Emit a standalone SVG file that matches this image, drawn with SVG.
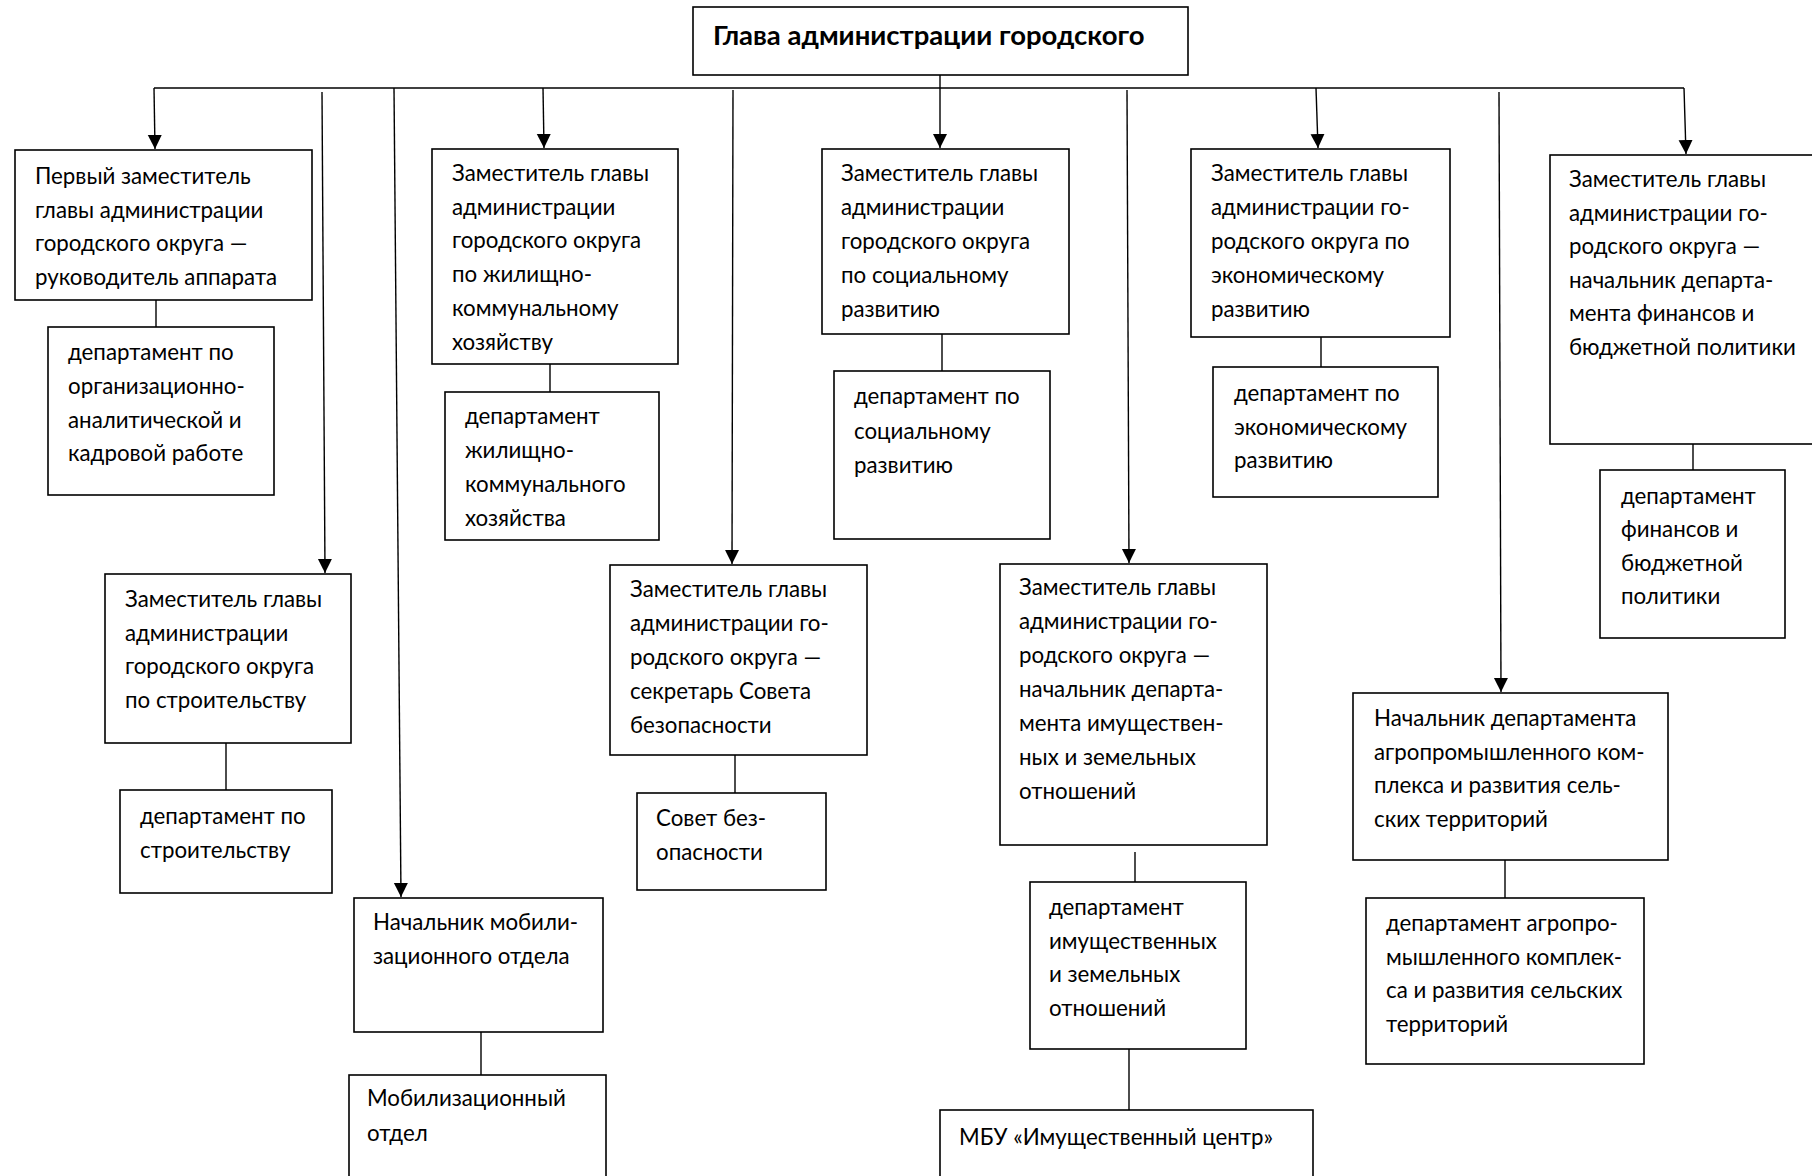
<svg xmlns="http://www.w3.org/2000/svg" width="1812" height="1176" viewBox="0 0 1812 1176">
<style>
.box{fill:#fff;stroke:#000;stroke-width:1.6}
.t{font-family:Lato,"Open Sans",sans-serif;font-size:22.3px;fill:#000}
.h{font-family:Lato,"Open Sans",sans-serif;font-size:27.5px;font-weight:bold;fill:#000}
.c{stroke:#000;stroke-width:1.4;fill:none}
.a{stroke:#000;stroke-width:1.4;fill:none;marker-end:url(#arr)}
</style>
<defs>
<marker id="arr" markerUnits="userSpaceOnUse" markerWidth="14" markerHeight="16" refX="14" refY="7" orient="auto">
<path d="M0,0 L14,7 L0,14 z" fill="#000"/>
</marker>
</defs>
<rect width="1812" height="1176" fill="#fff"/>
<g id="connectors">
<line class="c" x1="154" y1="88" x2="1684" y2="88"/>
<line class="a" x1="154" y1="88" x2="155" y2="149"/>
<line class="a" x1="322" y1="92" x2="325" y2="573"/>
<line class="a" x1="394" y1="88" x2="401" y2="897"/>
<line class="a" x1="543" y1="88" x2="544" y2="148"/>
<line class="a" x1="733" y1="90" x2="732" y2="564"/>
<line class="a" x1="940" y1="75" x2="940" y2="148"/>
<line class="a" x1="1127" y1="90" x2="1129" y2="563"/>
<line class="a" x1="1316" y1="88" x2="1318" y2="148"/>
<line class="a" x1="1499" y1="92" x2="1501" y2="692"/>
<line class="a" x1="1684" y1="88" x2="1686" y2="154"/>
<line class="c" x1="156" y1="300" x2="156" y2="327"/>
<line class="c" x1="226" y1="743" x2="226" y2="790"/>
<line class="c" x1="481" y1="1032" x2="481" y2="1075"/>
<line class="c" x1="550" y1="364" x2="550" y2="392"/>
<line class="c" x1="735" y1="755" x2="735" y2="793"/>
<line class="c" x1="942" y1="334" x2="942" y2="371"/>
<line class="c" x1="1135" y1="852" x2="1135" y2="882"/>
<line class="c" x1="1129" y1="1049" x2="1129" y2="1110"/>
<line class="c" x1="1321" y1="337" x2="1321" y2="367"/>
<line class="c" x1="1505" y1="860" x2="1505" y2="898"/>
<line class="c" x1="1693" y1="444" x2="1693" y2="470"/>
</g>
<g id="head">
<rect class="box" x="693" y="7" width="495" height="68"/>
<text class="h" x="713" y="45">Глава администрации городского</text>
</g>
<g id="first-deputy">
<rect class="box" x="15" y="150" width="297" height="150"/>
<text class="t" x="35" y="184"><tspan x="35">Первый заместитель</tspan><tspan x="35" dy="33.5">главы администрации</tspan><tspan x="35" dy="33.5">городского округа —</tspan><tspan x="35" dy="33.5">руководитель аппарата</tspan></text>
</g>
<g id="dept-org">
<rect class="box" x="48" y="327" width="226" height="168"/>
<text class="t" x="68" y="360"><tspan x="68">департамент по</tspan><tspan x="68" dy="33.8">организационно-</tspan><tspan x="68" dy="33.8">аналитической и</tspan><tspan x="68" dy="33.8">кадровой работе</tspan></text>
</g>
<g id="deputy-build">
<rect class="box" x="105" y="574" width="246" height="169"/>
<text class="t" x="125" y="607"><tspan x="125">Заместитель главы</tspan><tspan x="125" dy="33.7">администрации</tspan><tspan x="125" dy="33.7">городского округа</tspan><tspan x="125" dy="33.7">по строительству</tspan></text>
</g>
<g id="dept-build">
<rect class="box" x="120" y="790" width="212" height="103"/>
<text class="t" x="140" y="824"><tspan x="140">департамент по</tspan><tspan x="140" dy="34">строительству</tspan></text>
</g>
<g id="mob-head">
<rect class="box" x="354" y="898" width="249" height="134"/>
<text class="t" x="373" y="930"><tspan x="373">Начальник мобили-</tspan><tspan x="373" dy="34">зационного отдела</tspan></text>
</g>
<g id="mob-dept">
<rect class="box" x="349" y="1075" width="257" height="130"/>
<text class="t" x="367" y="1106"><tspan x="367">Мобилизационный</tspan><tspan x="367" dy="35">отдел</tspan></text>
</g>
<g id="deputy-housing">
<rect class="box" x="432" y="149" width="246" height="215"/>
<text class="t" x="452" y="181"><tspan x="452">Заместитель главы</tspan><tspan x="452" dy="33.7">администрации</tspan><tspan x="452" dy="33.7">городского округа</tspan><tspan x="452" dy="33.7">по жилищно-</tspan><tspan x="452" dy="33.7">коммунальному</tspan><tspan x="452" dy="33.7">хозяйству</tspan></text>
</g>
<g id="dept-housing">
<rect class="box" x="445" y="392" width="214" height="148"/>
<text class="t" x="465" y="424"><tspan x="465">департамент</tspan><tspan x="465" dy="34">жилищно-</tspan><tspan x="465" dy="34">коммунального</tspan><tspan x="465" dy="34">хозяйства</tspan></text>
</g>
<g id="deputy-security">
<rect class="box" x="610" y="565" width="257" height="190"/>
<text class="t" x="630" y="597"><tspan x="630">Заместитель главы</tspan><tspan x="630" dy="34">администрации го-</tspan><tspan x="630" dy="34">родского округа —</tspan><tspan x="630" dy="34">секретарь Совета</tspan><tspan x="630" dy="34">безопасности</tspan></text>
</g>
<g id="security-council">
<rect class="box" x="637" y="793" width="189" height="97"/>
<text class="t" x="656" y="826"><tspan x="656">Совет без-</tspan><tspan x="656" dy="34">опасности</tspan></text>
</g>
<g id="deputy-social">
<rect class="box" x="822" y="149" width="247" height="185"/>
<text class="t" x="841" y="181"><tspan x="841">Заместитель главы</tspan><tspan x="841" dy="33.9">администрации</tspan><tspan x="841" dy="33.9">городского округа</tspan><tspan x="841" dy="33.9">по социальному</tspan><tspan x="841" dy="33.9">развитию</tspan></text>
</g>
<g id="dept-social">
<rect class="box" x="834" y="371" width="216" height="168"/>
<text class="t" x="854" y="404"><tspan x="854">департамент по</tspan><tspan x="854" dy="34.5">социальному</tspan><tspan x="854" dy="34.5">развитию</tspan></text>
</g>
<g id="deputy-property">
<rect class="box" x="1000" y="564" width="267" height="281"/>
<text class="t" x="1019" y="595"><tspan x="1019">Заместитель главы</tspan><tspan x="1019" dy="34">администрации го-</tspan><tspan x="1019" dy="34">родского округа —</tspan><tspan x="1019" dy="34">начальник департа-</tspan><tspan x="1019" dy="34">мента имуществен-</tspan><tspan x="1019" dy="34">ных и земельных</tspan><tspan x="1019" dy="34">отношений</tspan></text>
</g>
<g id="dept-property">
<rect class="box" x="1030" y="882" width="216" height="167"/>
<text class="t" x="1049" y="915"><tspan x="1049">департамент</tspan><tspan x="1049" dy="33.7">имущественных</tspan><tspan x="1049" dy="33.7">и земельных</tspan><tspan x="1049" dy="33.7">отношений</tspan></text>
</g>
<g id="mbu">
<rect class="box" x="940" y="1110" width="373" height="100"/>
<text class="t" x="959" y="1145">МБУ «Имущественный центр»</text>
</g>
<g id="deputy-economy">
<rect class="box" x="1191" y="149" width="259" height="188"/>
<text class="t" x="1211" y="181"><tspan x="1211">Заместитель главы</tspan><tspan x="1211" dy="33.9">администрации го-</tspan><tspan x="1211" dy="33.9">родского округа по</tspan><tspan x="1211" dy="33.9">экономическому</tspan><tspan x="1211" dy="33.9">развитию</tspan></text>
</g>
<g id="dept-economy">
<rect class="box" x="1213" y="367" width="225" height="130"/>
<text class="t" x="1234" y="401"><tspan x="1234">департамент по</tspan><tspan x="1234" dy="33.5">экономическому</tspan><tspan x="1234" dy="33.5">развитию</tspan></text>
</g>
<g id="agro-head">
<rect class="box" x="1353" y="693" width="315" height="167"/>
<text class="t" x="1374" y="726"><tspan x="1374">Начальник департамента</tspan><tspan x="1374" dy="33.7">агропромышленного ком-</tspan><tspan x="1374" dy="33.7">плекса и развития сель-</tspan><tspan x="1374" dy="33.7">ских территорий</tspan></text>
</g>
<g id="agro-dept">
<rect class="box" x="1366" y="898" width="278" height="166"/>
<text class="t" x="1386" y="931"><tspan x="1386">департамент агропро-</tspan><tspan x="1386" dy="33.7">мышленного комплек-</tspan><tspan x="1386" dy="33.7">са и развития сельских</tspan><tspan x="1386" dy="33.7">территорий</tspan></text>
</g>
<g id="deputy-finance">
<rect class="box" x="1550" y="155" width="300" height="289"/>
<text class="t" x="1569" y="187"><tspan x="1569">Заместитель главы</tspan><tspan x="1569" dy="33.6">администрации го-</tspan><tspan x="1569" dy="33.6">родского округа —</tspan><tspan x="1569" dy="33.6">начальник департа-</tspan><tspan x="1569" dy="33.6">мента финансов и</tspan><tspan x="1569" dy="33.6">бюджетной политики</tspan></text>
</g>
<g id="dept-finance">
<rect class="box" x="1600" y="470" width="185" height="168"/>
<text class="t" x="1621" y="504"><tspan x="1621">департамент</tspan><tspan x="1621" dy="33.3">финансов и</tspan><tspan x="1621" dy="33.3">бюджетной</tspan><tspan x="1621" dy="33.3">политики</tspan></text>
</g>
</svg>
